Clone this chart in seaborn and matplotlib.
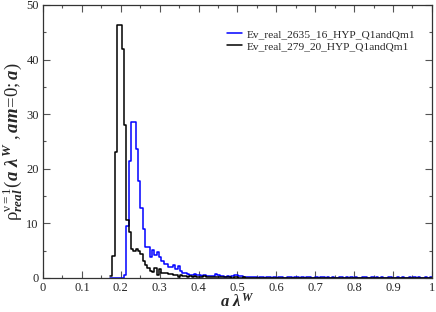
import numpy as np
import pandas as pd
import seaborn as sns
import matplotlib
matplotlib.use("Agg")
import matplotlib.pyplot as plt

# histogram bins (width and first edge)
bin_start = 0.1725
bin_width = 0.006

label_blue = "Ev_real_2635_16_HYP_Q1andQm1"
label_black = "Ev_real_279_20_HYP_Q1andQm1"

blue_vals = [
    0, 0, 0, 0, 0, 0, 0.5, 9.5, 21.5, 28.5,
    28.5, 23.6, 17.8, 12.8, 9.0, 5.6, 5.6, 3.9, 5.2, 4.3,
    4.8, 3.8, 3.2, 2.6, 2.6, 2.0, 2.0, 2.3, 1.7, 2.2,
    1.2, 1.0, 1.0, 0.8, 0.6, 0.6, 0.7, 0.5, 0.6, 0.4,
    0.5, 0.4, 0.3, 0.4, 0.3, 0.7, 0.5, 0.3, 0.3, 0.2,
    0.3, 0.2, 0.3, 0.6, 0.5, 0.3, 0.3, 0.2, 0.2, 0.1,
    0.2, 0.1, 0.2, 0, 0.2, 0.1, 0, 0.2, 0.1, 0,
    0.15, 0, 0.1, 0.2, 0, 0, 0.15, 0.1, 0, 0.2,
    0.1, 0, 0.15, 0, 0.2, 0.1, 0, 0, 0.15, 0,
    0.1, 0.2, 0, 0.1, 0, 0.15, 0, 0, 0.2, 0.1,
    0, 0.15, 0, 0.1, 0, 0.2, 0, 0, 0.1, 0.15,
    0, 0, 0.2, 0, 0.1, 0, 0.15, 0, 0, 0.1,
    0.2, 0, 0, 0.15, 0, 0.1, 0, 0, 0.2, 0,
    0.1, 0, 0.15, 0, 0, 0.2, 0, 0.1,
]

black_vals = [
    0.3, 4.0, 23.0, 46.3, 46.3, 42.0, 28.0, 10.6, 8.5, 5.3,
    5.0, 5.4, 5.0, 4.4, 3.2, 2.3, 1.8, 1.3, 1.1, 1.8,
    0.6, 1.7, 0.9, 0.85, 0.9, 0.7, 0.75, 0.55, 0.6, 0.2,
    0.5, 0.3, 0.35, 0.25, 0.4, 0.2, 0.3, 0.2, 0.25, 0.2,
    0.3, 0.15, 0.2, 0.1, 0.2, 0.15, 0.1, 0.2, 0.1, 0.1,
    0.15, 0.1, 0.05, 0.1, 0.1, 0.05, 0, 0.1, 0, 0.05,
    0, 0, 0.05, 0, 0, 0.05, 0, 0, 0, 0.05,
    0, 0, 0, 0, 0.05, 0, 0, 0, 0, 0,
    0, 0.05, 0, 0, 0, 0, 0, 0, 0, 0,
    0, 0, 0, 0.05, 0, 0, 0, 0, 0, 0,
    0, 0, 0, 0, 0, 0, 0, 0, 0, 0,
    0, 0, 0, 0, 0, 0, 0, 0, 0, 0,
    0, 0, 0, 0, 0, 0, 0, 0, 0, 0,
    0, 0, 0, 0, 0, 0, 0, 0,
]

n = len(blue_vals)
edges = bin_start + bin_width * np.arange(n + 1)
centers = edges[:-1] + bin_width / 2
df = pd.DataFrame({"x": centers, "blue": blue_vals, "black": black_vals})

sns.set_style("ticks")
plt.rcParams["font.family"] = ["Liberation Serif", "DejaVu Serif"]
plt.rcParams["mathtext.fontset"] = "custom"
plt.rcParams["mathtext.rm"] = "Liberation Serif"
plt.rcParams["mathtext.it"] = "Liberation Serif:bold:italic"
plt.rcParams["mathtext.bf"] = "Liberation Serif:bold"

fig = plt.figure(figsize=(4.36, 3.12), dpi=100)
ax = fig.add_axes([0.0986, 0.109, 0.892, 0.875])

rng = (float(edges[0]), float(edges[-1]))
sns.histplot(data=df, x="x", weights="blue", binwidth=bin_width, binrange=rng,
             element="step", fill=False, color="#0000ff", linewidth=1.1,
             ax=ax, label=label_blue)
sns.histplot(data=df, x="x", weights="black", binwidth=bin_width, binrange=rng,
             element="step", fill=False, color="black", linewidth=1.1,
             ax=ax, label=label_black)

ax.set_xlim(0, 1)
ax.set_ylim(0, 50)
ax.set_xticks(np.arange(0, 1.01, 0.1))
ax.set_xticklabels(["0", "0.1", "0.2", "0.3", "0.4", "0.5", "0.6", "0.7", "0.8", "0.9", "1"])
ax.set_xticks(np.arange(0.05, 1, 0.1), minor=True)
ax.set_yticks(np.arange(0, 51, 10))
ax.set_yticks(np.arange(5, 50, 10), minor=True)
ax.tick_params(which="both", direction="in", top=True, right=True, labelsize=9,
               color="#555555", width=0.8, pad=3)
ax.tick_params(which="major", length=5)
ax.tick_params(which="minor", length=2.5)
for s in ax.spines.values():
    s.set_linewidth(0.9)
    s.set_color("#333333")

ax.set_xlabel(r"$a\ \lambda^{W}$", fontsize=12, labelpad=-1)
ax.set_ylabel(r"$\mathrm{\rho}^{\mathrm{\nu=1}}_{real}(a\ \lambda^{W}\ ,am\!=\!0;a)$",
              fontsize=13.5, labelpad=1)

ax.legend(loc="upper right", bbox_to_anchor=(0.983, 0.948), frameon=False, fontsize=8.2,
          handlelength=1.3, handletextpad=0.4, labelspacing=0.15)

fig.savefig("out.png", dpi=100)
